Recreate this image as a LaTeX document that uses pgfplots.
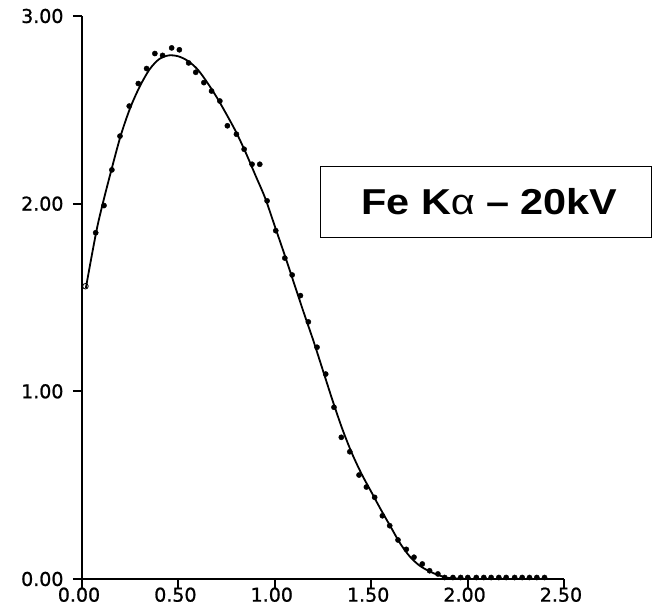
\documentclass[border=0pt]{standalone}
\usepackage{pgfplots}
\pgfplotsset{compat=1.18}
\usepackage{fontspec}
\setmainfont{Liberation Sans}
\newfontfamily\tickfont{DejaVu Sans}[FakeBold=1]
\newfontfamily\boxfont{Liberation Sans}[FakeStretch=1.15]
\newcommand\tlfont{\tickfont\fontsize{19}{19}\selectfont}
\pgfplotstableread{
x y
0.02 1.55
0.05 1.72
0.08 1.88
0.11 2.01
0.15 2.17
0.20 2.36
0.25 2.51
0.30 2.625
0.35 2.715
0.40 2.77
0.45 2.79
0.50 2.785
0.55 2.76
0.60 2.715
0.65 2.645
0.70 2.565
0.75 2.475
0.80 2.38
0.85 2.27
0.90 2.15
0.95 2.03
1.00 1.88
1.05 1.73
1.10 1.575
1.15 1.42
1.20 1.27
1.25 1.11
1.30 0.95
1.35 0.80
1.40 0.67
1.45 0.56
1.50 0.465
1.55 0.37
1.60 0.28
1.65 0.19
1.70 0.12
1.75 0.072
1.80 0.042
1.85 0.02
1.90 0.006
1.95 0.002
}\curvedata
\pgfplotstableread{
x y
0.071 1.845
0.114 1.99
0.155 2.18
0.197 2.36
0.245 2.52
0.292 2.64
0.335 2.72
0.378 2.80
0.418 2.79
0.465 2.83
0.505 2.82
0.553 2.75
0.590 2.70
0.632 2.645
0.672 2.60
0.715 2.547
0.754 2.415
0.801 2.37
0.841 2.29
0.882 2.21
0.922 2.21
0.960 2.015
1.005 1.856
1.052 1.71
1.090 1.62
1.133 1.51
1.174 1.37
1.219 1.235
1.264 1.092
1.307 0.915
1.345 0.755
1.389 0.678
1.437 0.554
1.475 0.49
1.518 0.435
1.558 0.337
1.596 0.284
1.639 0.208
1.682 0.158
1.722 0.116
1.765 0.08
1.803 0.044
1.846 0.027
1.881 0.008
1.924 0.008
1.964 0.008
2.001 0.008
2.045 0.008
2.084 0.008
2.122 0.008
2.162 0.008
2.200 0.008
2.244 0.008
2.283 0.008
2.321 0.008
2.359 0.008
2.399 0.008
}\dotdata
\begin{document}
\begin{tikzpicture}[x=1pt,y=1pt]
\useasboundingbox (0,0) rectangle (654,613);
\begin{axis}[
  at={(82pt,34pt)}, anchor=south west,
  scale only axis, width=482pt, height=563pt,
  xmin=0, xmax=2.5, ymin=0, ymax=3,
  axis x line*=bottom, axis y line*=left,
  axis line style={-, line width=1.7pt},
  xtick={0,0.5,1,1.5,2,2.5}, ytick={0,1,2,3},
  xticklabels={0.00,0.50,1.00,1.50,2.00,2.50},
  yticklabels={0.00,1.00,2.00,3.00},
  tick align=outside,
  major tick length=9pt,
  every tick/.style={black, line width=2pt},
  xticklabel style={font=\tlfont, anchor=north, xshift=-3pt, yshift=4pt},
  yticklabel style={font=\tlfont, anchor=east, xshift=-6pt},
  clip=false,
]
\pgfplotsinvokeforeach{0,0.5,1,1.5,2,2.5}{
  \draw[line width=2pt, black] (axis cs:#1,0) -- ++(0pt,-8pt);
}
\pgfplotsinvokeforeach{0,1,2,3}{
  \draw[line width=2pt, black] (axis cs:0,#1) -- ++(-9pt,0pt);
}
\addplot[black, line width=1.8pt, smooth, tension=0.5] table {\curvedata};
\addplot[only marks, mark=*, mark size=2.6pt, black] table {\dotdata};
\addplot[only marks, mark=o, mark size=2.8pt, black, thick] coordinates {(0.018,1.56)};
\end{axis}
\node[draw, line width=1.1pt, minimum width=331pt, minimum height=71pt, inner sep=0pt,
  font=\boxfont\bfseries\fontsize{36}{36}\selectfont] at (486.4,411.3) {\hspace{6pt}Fe K{\mdseries α} – 20kV};
\end{tikzpicture}
\end{document}
